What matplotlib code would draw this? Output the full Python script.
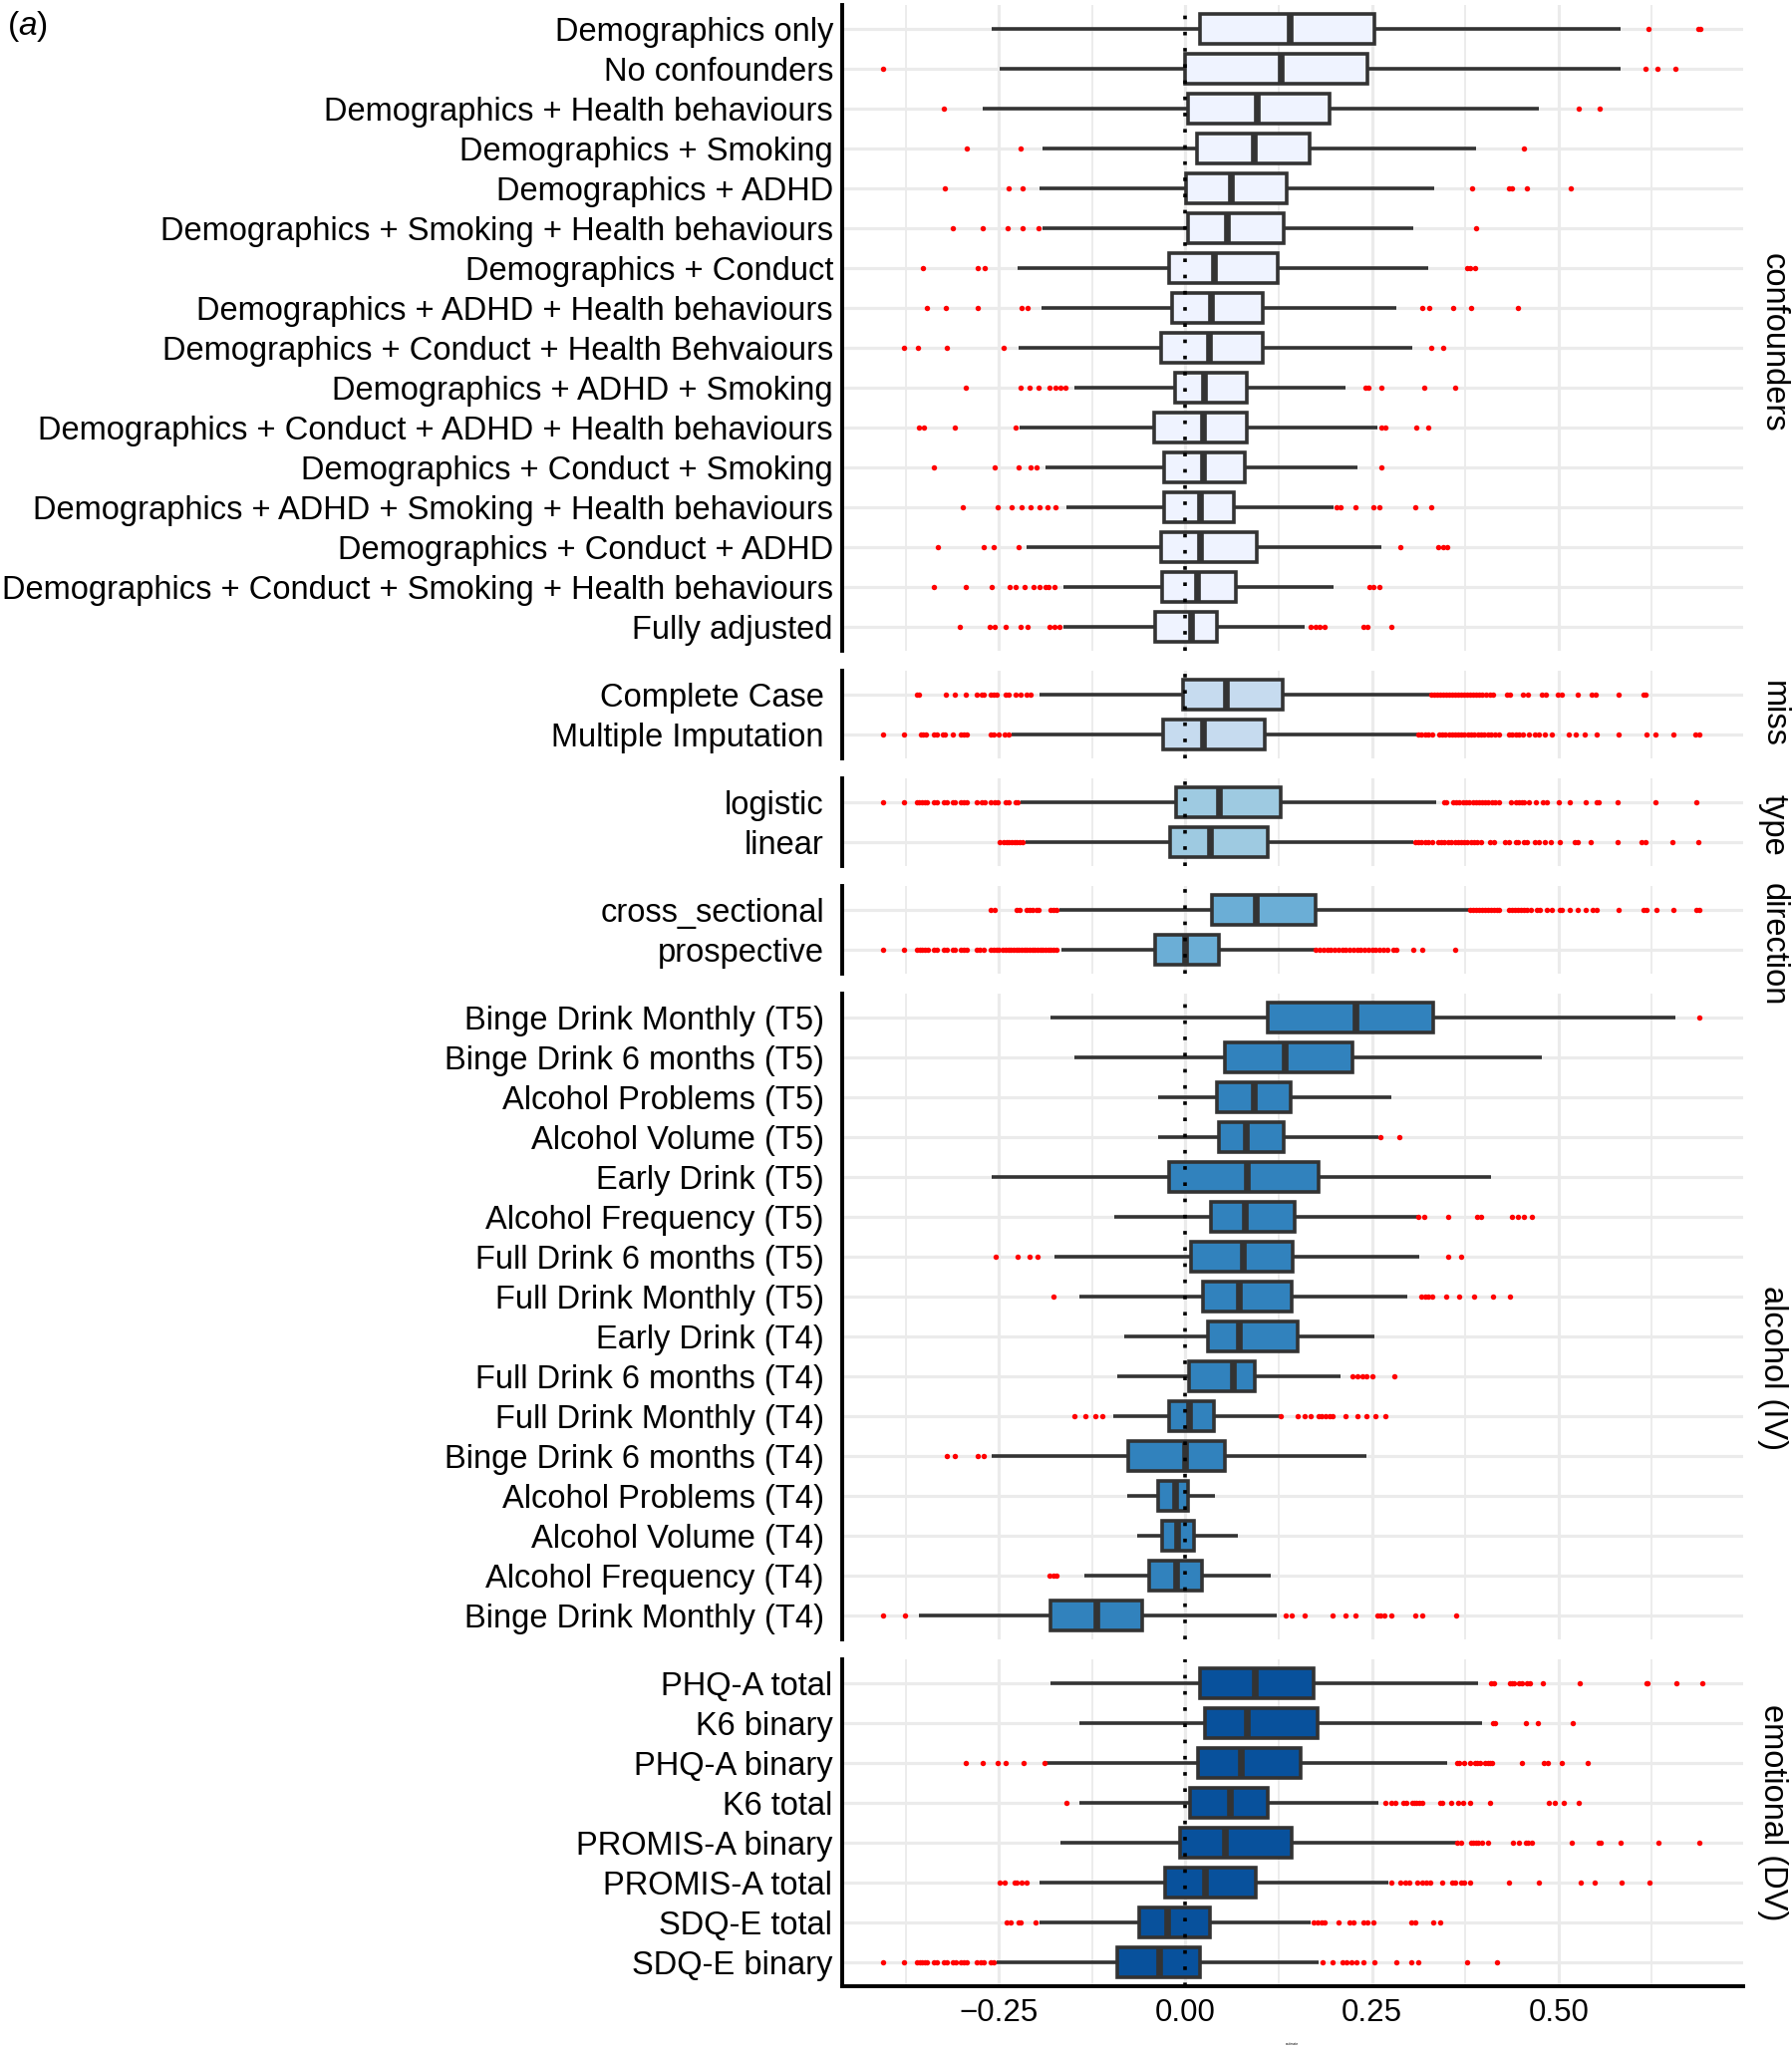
import matplotlib
matplotlib.use("Agg")
import matplotlib.pyplot as plt
from matplotlib.ticker import FixedLocator

plt.rcParams['font.family'] = ['Liberation Sans', 'DejaVu Sans']
plt.rcParams['mathtext.fontset'] = 'custom'
plt.rcParams['mathtext.it'] = 'Liberation Sans:italic'
plt.rcParams['mathtext.rm'] = 'Liberation Sans'

# ---------------------------------------------------------------- data
x_ticks = [-0.25, 0.0, 0.25, 0.50]
x_tick_labels = ["\u22120.25", "0.00", "0.25", "0.50"]

# confounders
conf_labels = ["Demographics only", "No confounders", "Demographics + Health behaviours",
               "Demographics + Smoking", "Demographics + ADHD",
               "Demographics + Smoking + Health behaviours", "Demographics + Conduct",
               "Demographics + ADHD + Health behaviours",
               "Demographics + Conduct + Health Behvaiours", "Demographics + ADHD + Smoking",
               "Demographics + Conduct + ADHD + Health behaviours",
               "Demographics + Conduct + Smoking",
               "Demographics + ADHD + Smoking + Health behaviours",
               "Demographics + Conduct + ADHD",
               "Demographics + Conduct + Smoking + Health behaviours", "Fully adjusted"]
conf_whislo = [-0.259, -0.249, -0.272, -0.192, -0.196, -0.192, -0.225, -0.193, -0.223, -0.149,
               -0.222, -0.188, -0.159, -0.213, -0.163, -0.163]
conf_q1 = [0.020, 0.000, 0.003, 0.016, 0.001, 0.003, -0.022, -0.018, -0.033, -0.014, -0.042,
           -0.029, -0.028, -0.033, -0.031, -0.041]
conf_med = [0.140, 0.128, 0.095, 0.092, 0.061, 0.056, 0.038, 0.034, 0.031, 0.025, 0.024, 0.023,
            0.019, 0.019, 0.016, 0.007]
conf_q3 = [0.253, 0.244, 0.193, 0.167, 0.136, 0.132, 0.124, 0.104, 0.104, 0.082, 0.082, 0.080,
           0.065, 0.096, 0.067, 0.042]
conf_whishi = [0.583, 0.583, 0.473, 0.390, 0.334, 0.306, 0.325, 0.282, 0.304, 0.214, 0.257,
               0.231, 0.198, 0.263, 0.198, 0.160]
conf_fliers = [
    [0.620, 0.687, 0.690],
    [-0.405, 0.617, 0.633, 0.656],
    [-0.324, 0.527, 0.555],
    [-0.293, -0.221, 0.454],
    [-0.322, -0.237, -0.218, 0.384, 0.434, 0.438, 0.457, 0.517],
    [-0.312, -0.271, -0.238, -0.218, -0.197, 0.389],
    [-0.352, -0.279, -0.269, 0.377, 0.382, 0.388],
    [-0.347, -0.321, -0.279, -0.219, -0.212, 0.318, 0.327, 0.359, 0.383, 0.446],
    [-0.377, -0.359, -0.320, -0.243, 0.330, 0.346],
    [-0.294, -0.221, -0.209, -0.197, -0.182, -0.174, -0.167, -0.161, 0.241, 0.245, 0.262,
     0.320, 0.361],
    [-0.357, -0.351, -0.309, -0.228, 0.263, 0.268, 0.309, 0.325],
    [-0.337, -0.256, -0.223, -0.207, -0.200, 0.263],
    [-0.298, -0.251, -0.233, -0.220, -0.208, -0.195, -0.185, -0.174, 0.202, 0.208, 0.228,
     0.252, 0.260, 0.308, 0.329],
    [-0.332, -0.270, -0.257, -0.224, 0.288, 0.339, 0.345, 0.351],
    [-0.337, -0.294, -0.260, -0.236, -0.228, -0.215, -0.203, -0.195, -0.188, -0.183, -0.176,
     0.247, 0.252, 0.260],
    [-0.302, -0.262, -0.255, -0.241, -0.221, -0.212, -0.182, -0.175, -0.169, 0.168, 0.174,
     0.180, 0.187, 0.238, 0.244, 0.276],
]

# missing data handling
miss_labels = ["Complete Case", "Multiple Imputation"]
miss_whislo = [-0.196, -0.2335]
miss_q1 = [-0.003, -0.030]
miss_med = [0.054, 0.024]
miss_q3 = [0.131, 0.107]
miss_whishi = [0.329, 0.311]
miss_fliers = [
    [-0.3596, -0.3574, -0.3209, -0.3093, -0.2941, -0.2794, -0.2736, -0.2705, -0.2607, -0.2571,
     -0.2527, -0.2416, -0.2371, -0.2282, -0.2215, -0.2126, -0.2081,
     0.330, 0.334, 0.337, 0.342, 0.345, 0.350, 0.353, 0.357, 0.362, 0.366, 0.369, 0.374, 0.378,
     0.381, 0.386, 0.390, 0.394, 0.398, 0.403, 0.408, 0.412, 0.431, 0.435, 0.452, 0.459, 0.477,
     0.483, 0.499, 0.504, 0.526, 0.545, 0.550, 0.580, 0.614, 0.617],
    [-0.4055, -0.3766, -0.3543, -0.3516, -0.3472, -0.3373, -0.3329, -0.3249, -0.3218, -0.3119,
     -0.3017, -0.2972, -0.2928, -0.2616, -0.2571, -0.2504, -0.2429, -0.2371,
     0.312, 0.316, 0.321, 0.326, 0.331, 0.340, 0.344, 0.348, 0.353, 0.357, 0.361, 0.366, 0.370,
     0.374, 0.379, 0.383, 0.387, 0.392, 0.396, 0.400, 0.405, 0.409, 0.415, 0.420, 0.4335, 0.438,
     0.4424, 0.4469, 0.4522, 0.4602, 0.4682, 0.4736, 0.4816, 0.4906, 0.5138, 0.5236, 0.5347,
     0.5517, 0.5802, 0.6176, 0.6297, 0.6533, 0.684, 0.6885],
]

# model type
type_labels = ["logistic", "linear"]
type_whislo = [-0.2215, -0.2139]
type_q1 = [-0.013, -0.021]
type_med = [0.045, 0.033]
type_q3 = [0.128, 0.110]
type_whishi = [0.3356, 0.3052]
type_fliers = [
    [-0.4055, -0.3766, -0.3596, -0.3565, -0.3529, -0.3498, -0.3463, -0.3365, -0.3329, -0.324,
     -0.3204, -0.3115, -0.3084, -0.3017, -0.2972, -0.2937, -0.2794, -0.2727, -0.2696, -0.2607,
     -0.2562, -0.2518, -0.2416, -0.2371, -0.2282, -0.2251,
     0.3467, 0.3498, 0.359, 0.363, 0.367, 0.372, 0.376, 0.380, 0.385, 0.389, 0.393, 0.398,
     0.402, 0.406, 0.411, 0.415, 0.420, 0.4362, 0.4429, 0.4474, 0.4505, 0.454, 0.4607, 0.4696,
     0.4794, 0.4838, 0.5008, 0.515, 0.5359, 0.5507, 0.5538, 0.5797, 0.6305, 0.6849],
    [-0.2496, -0.2438, -0.2402, -0.2367, -0.2331, -0.2295, -0.226, -0.2224, -0.2188,
     0.308, 0.312, 0.316, 0.321, 0.326, 0.331, 0.339, 0.343, 0.347, 0.352, 0.356, 0.361, 0.365,
     0.369, 0.374, 0.378, 0.383, 0.387, 0.391, 0.396, 0.4082, 0.4135, 0.4282, 0.4336, 0.4425,
     0.446, 0.4536, 0.4572, 0.4683, 0.4736, 0.4816, 0.4896, 0.5016, 0.5219, 0.5254, 0.5432,
     0.5793, 0.6118, 0.6167, 0.6527, 0.688],
]

# direction
dir_labels = ["cross_sectional", "prospective"]
dir_whislo = [-0.1689, -0.1665]
dir_q1 = [0.035, -0.040]
dir_med = [0.094, -0.001]
dir_q3 = [0.174, 0.045]
dir_whishi = [0.380, 0.1735]
dir_fliers = [
    [-0.2616, -0.2562, -0.2268, -0.2224, -0.2135, -0.209, -0.2054, -0.2001, -0.1965, -0.1805,
     -0.177, -0.1734,
     0.381, 0.385, 0.389, 0.393, 0.397, 0.401, 0.405, 0.409, 0.413, 0.417, 0.420, 0.433, 0.437,
     0.441, 0.445, 0.449, 0.453, 0.457, 0.4626, 0.4706, 0.4751, 0.484, 0.4916, 0.5018, 0.505,
     0.515, 0.5262, 0.536, 0.5454, 0.5517, 0.5802, 0.614, 0.6185, 0.631, 0.6546, 0.6853, 0.6889],
    [-0.4055, -0.3766, -0.3596, -0.3561, -0.3526, -0.349, -0.3454, -0.3365, -0.3329, -0.324,
     -0.3204, -0.3115, -0.3088, -0.3008, -0.2972, -0.2937, -0.2794, -0.2759, -0.2705, -0.2607,
     -0.2571, -0.2536, -0.250, -0.2446, -0.241, -0.2375, -0.234, -0.2304, -0.2268, -0.2233,
     -0.2197, -0.2161, -0.2126, -0.209, -0.2054, -0.2019, -0.1983, -0.1947, -0.1912, -0.1876,
     -0.184, -0.1805, -0.1769, -0.1734,
     0.175, 0.180, 0.185, 0.190, 0.195, 0.200, 0.205, 0.210, 0.215, 0.220, 0.225, 0.230, 0.235,
     0.240, 0.245, 0.250, 0.255, 0.260, 0.265, 0.270, 0.278, 0.2825, 0.306, 0.3175, 0.3617],
]

# alcohol (IV)
alc_labels = ["Binge Drink Monthly (T5)", "Binge Drink 6 months (T5)", "Alcohol Problems (T5)",
              "Alcohol Volume (T5)", "Early Drink (T5)", "Alcohol Frequency (T5)",
              "Full Drink 6 months (T5)", "Full Drink Monthly (T5)", "Early Drink (T4)",
              "Full Drink 6 months (T4)", "Full Drink Monthly (T4)", "Binge Drink 6 months (T4)",
              "Alcohol Problems (T4)", "Alcohol Volume (T4)", "Alcohol Frequency (T4)",
              "Binge Drink Monthly (T4)"]
alc_whislo = [-0.181, -0.149, -0.036, -0.036, -0.259, -0.095, -0.176, -0.1425, -0.0825, -0.092,
              -0.097, -0.259, -0.0775, -0.065, -0.136, -0.3575]
alc_q1 = [0.110, 0.0525, 0.0425, 0.045, -0.0225, 0.034, 0.0075, 0.024, 0.030, 0.005, -0.022,
          -0.076, -0.036, -0.031, -0.048, -0.181]
alc_med = [0.2275, 0.133, 0.092, 0.081, 0.082, 0.079, 0.077, 0.072, 0.071, 0.064, 0.005, -0.001,
           -0.014, -0.011, -0.012, -0.120]
alc_q3 = [0.332, 0.224, 0.141, 0.132, 0.178, 0.146, 0.144, 0.142, 0.151, 0.093, 0.038, 0.053,
          0.004, 0.0117, 0.0225, -0.058]
alc_whishi = [0.656, 0.478, 0.276, 0.258, 0.409, 0.312, 0.314, 0.2975, 0.253, 0.2075, 0.127,
              0.2425, 0.039, 0.070, 0.115, 0.1217]
alc_fliers = [
    [0.689],
    [],
    [],
    [0.261, 0.287],
    [],
    [0.3125, 0.320, 0.3525, 0.391, 0.396, 0.437, 0.445, 0.453, 0.464],
    [-0.254, -0.225, -0.209, -0.198, 0.352, 0.370],
    [-0.1775, 0.316, 0.321, 0.326, 0.331, 0.350, 0.367, 0.387, 0.4125, 0.435],
    [],
    [0.224, 0.231, 0.2375, 0.243, 0.250, 0.280],
    [-0.149, -0.134, -0.121, -0.111, 0.1275, 0.150, 0.160, 0.168, 0.178, 0.183, 0.188, 0.193,
     0.1975, 0.214, 0.230, 0.2425, 0.255, 0.2675],
    [-0.320, -0.309, -0.279, -0.270],
    [],
    [],
    [-0.1825, -0.1775, -0.1725],
    [-0.405, -0.376, 0.134, 0.1425, 0.160, 0.1975, 0.214, 0.2275, 0.2567, 0.2617, 0.266, 0.276,
     0.3075, 0.3175, 0.3625],
]

# emotional (DV)
emo_labels = ["PHQ-A total", "K6 binary", "PHQ-A binary", "K6 total", "PROMIS-A binary",
              "PROMIS-A total", "SDQ-E total", "SDQ-E binary"]
emo_whislo = [-0.1805, -0.1426, -0.1867, -0.1426, -0.1679, -0.1961, -0.1961, -0.2527]
emo_q1 = [0.019, 0.026, 0.0167, 0.0067, -0.0075, -0.0267, -0.062, -0.092]
emo_med = [0.093, 0.082, 0.074, 0.059, 0.053, 0.0267, -0.025, -0.035]
emo_q3 = [0.172, 0.177, 0.154, 0.110, 0.1425, 0.094, 0.033, 0.019]
emo_whishi = [0.3926, 0.398, 0.3507, 0.2589, 0.3632, 0.2723, 0.1675, 0.179]
emo_fliers = [
    [0.4101, 0.4137, 0.4349, 0.438, 0.4403, 0.447, 0.4514, 0.4581, 0.4612, 0.4795, 0.5289,
     0.6176, 0.6199, 0.6578, 0.693],
    [0.4122, 0.4149, 0.4568, 0.4723, 0.5187],
    [-0.2941, -0.2714, -0.2513, -0.2415, -0.217, -0.1894, 0.3645, 0.3668, 0.3735, 0.381, 0.3882,
     0.3913, 0.3944, 0.4015, 0.4055, 0.4087, 0.4113, 0.4514, 0.4804, 0.4862, 0.504, 0.5392],
    [-0.16, 0.2678, 0.2762, 0.2811, 0.2918, 0.2963, 0.3035, 0.3066, 0.3097, 0.3132, 0.3177,
     0.3409, 0.3445, 0.3556, 0.3659, 0.3721, 0.3815, 0.4086, 0.4871, 0.4947, 0.5067, 0.5276],
    [0.3645, 0.3699, 0.3824, 0.3859, 0.389, 0.3926, 0.3971, 0.406, 0.4394, 0.447, 0.4559,
     0.4595, 0.4648, 0.5183, 0.5539, 0.5566, 0.5833, 0.6341, 0.6885],
    [-0.2496, -0.2424, -0.2291, -0.2268, -0.2192, -0.2134, 0.2754, 0.2874, 0.2945, 0.2999,
     0.311, 0.3177, 0.3221, 0.328, 0.3436, 0.3579, 0.3614, 0.37, 0.3731, 0.3819, 0.4336, 0.4737,
     0.5298, 0.5485, 0.5842, 0.6216],
    [-0.2393, -0.2349, -0.2237, -0.2215, -0.2005, 0.1717, 0.1767, 0.1825, 0.1867, 0.2058, 0.22,
     0.2258, 0.2392, 0.2442, 0.2517, 0.3025, 0.3075, 0.3317, 0.3408],
    [-0.4055, -0.3766, -0.3596, -0.3561, -0.3526, -0.349, -0.3463, -0.3365, -0.3329, -0.324,
     -0.3204, -0.3115, -0.3079, -0.3008, -0.2972, -0.2937, -0.2794, -0.275, -0.2705, -0.2607,
     -0.2571, 0.184, 0.1975, 0.21, 0.216, 0.2225, 0.229, 0.239, 0.253, 0.2825, 0.303, 0.3125,
     0.378, 0.4175],
]

facet_names = ["confounders", "miss", "type", "direction", "alcohol (IV)", "emotional (DV)"]
facet_fills = ["#EFF3FF", "#C6DBEF", "#9ECAE1", "#6BAED6", "#3182BD", "#08519C"]

panels = [
    (conf_labels, conf_whislo, conf_q1, conf_med, conf_q3, conf_whishi, conf_fliers),
    (miss_labels, miss_whislo, miss_q1, miss_med, miss_q3, miss_whishi, miss_fliers),
    (type_labels, type_whislo, type_q1, type_med, type_q3, type_whishi, type_fliers),
    (dir_labels, dir_whislo, dir_q1, dir_med, dir_q3, dir_whishi, dir_fliers),
    (alc_labels, alc_whislo, alc_q1, alc_med, alc_q3, alc_whishi, alc_fliers),
    (emo_labels, emo_whislo, emo_q1, emo_med, emo_q3, emo_whishi, emo_fliers),
]

# ---------------------------------------------------------------- layout
W, H = 1799, 2057
fig = plt.figure(figsize=(W / 100, H / 100), dpi=100)
fig.patch.set_facecolor("white")

top_px, unit_px, gap_px = 5.0, 40.0, 20.0
left_px, right_px = 845.0, 1749.4
label_pads = [6.5, 13, 13, 13, 13, 7.0]
strip_y_px = [344, 716.7, 827.5, 947.5, 1372.5, 1819]
strip_x_px = 1779
FS = 23.5
EDGE = "#333333"
GRID = "#EBEBEB"

y_px = top_px
for i, (labels, wlo, q1, med, q3, whi, fl) in enumerate(panels):
    n = len(labels)
    h_px = (n - 1 + 1.2) * unit_px
    ax = fig.add_axes([left_px / W, 1 - (y_px + h_px) / H, (right_px - left_px) / W, h_px / H])
    stats = [dict(label=labels[k], whislo=wlo[k], q1=q1[k], med=med[k], q3=q3[k],
                  whishi=whi[k], fliers=fl[k]) for k in range(n)]
    kw = dict(positions=list(range(1, n + 1)), widths=0.75, patch_artist=True,
              showcaps=False,
              boxprops=dict(facecolor=facet_fills[i], edgecolor=EDGE, linewidth=2.6),
              whiskerprops=dict(color=EDGE, linewidth=2.6, solid_capstyle="butt"),
              medianprops=dict(color=EDGE, linewidth=4.8, solid_capstyle="butt"),
              flierprops=dict(marker="o", markerfacecolor="red", markeredgecolor="none",
                              markersize=3.9, linestyle="none"))
    try:
        ax.bxp(stats, orientation="horizontal", **kw)
    except TypeError:
        ax.bxp(stats, vert=False, **kw)

    ax.set_xlim(-0.46, 0.748)
    ax.set_ylim(n + 0.6, 0.4)
    ax.set_yticks(list(range(1, n + 1)))
    ax.set_yticklabels(labels, fontsize=FS)
    ax.xaxis.set_major_locator(FixedLocator(x_ticks))
    ax.xaxis.set_minor_locator(FixedLocator([-0.375, -0.125, 0.125, 0.375, 0.625]))
    ax.set_axisbelow(True)
    ax.grid(which="major", axis="both", color=GRID, linewidth=2.3)
    ax.grid(which="minor", axis="x", color=GRID, linewidth=1.3)
    ax.tick_params(axis="both", which="both", length=0)
    ax.tick_params(axis="y", pad=label_pads[i])
    for s in ("top", "right"):
        ax.spines[s].set_visible(False)
    ax.spines["left"].set_color("black")
    ax.spines["left"].set_linewidth(2.8)
    if i == len(panels) - 1:
        ax.spines["bottom"].set_color("black")
        ax.spines["bottom"].set_linewidth(2.8)
        ax.set_xticklabels(x_tick_labels, fontsize=22.5)
        ax.tick_params(axis="x", pad=9)
    else:
        ax.spines["bottom"].set_visible(False)
        ax.tick_params(axis="x", labelbottom=False)
    ax.axvline(0, color="black", linewidth=2.6, linestyle=(0, (1, 3.5)), zorder=6)
    ax.set_facecolor("white")

    fig.text(strip_x_px / W, 1 - strip_y_px[i] / H, facet_names[i], rotation=-90,
             ha="center", va="center", fontsize=FS)
    y_px += h_px + gap_px

fig.text(7 / W, 1 - 26 / H, r"($\mathit{a}$)", ha="left", va="center", fontsize=24)
fig.text(1297 / W, 1 - 2051 / H, "estimate", ha="center", va="center", fontsize=2.5)

fig.savefig("out.png", dpi=100, facecolor="white")
